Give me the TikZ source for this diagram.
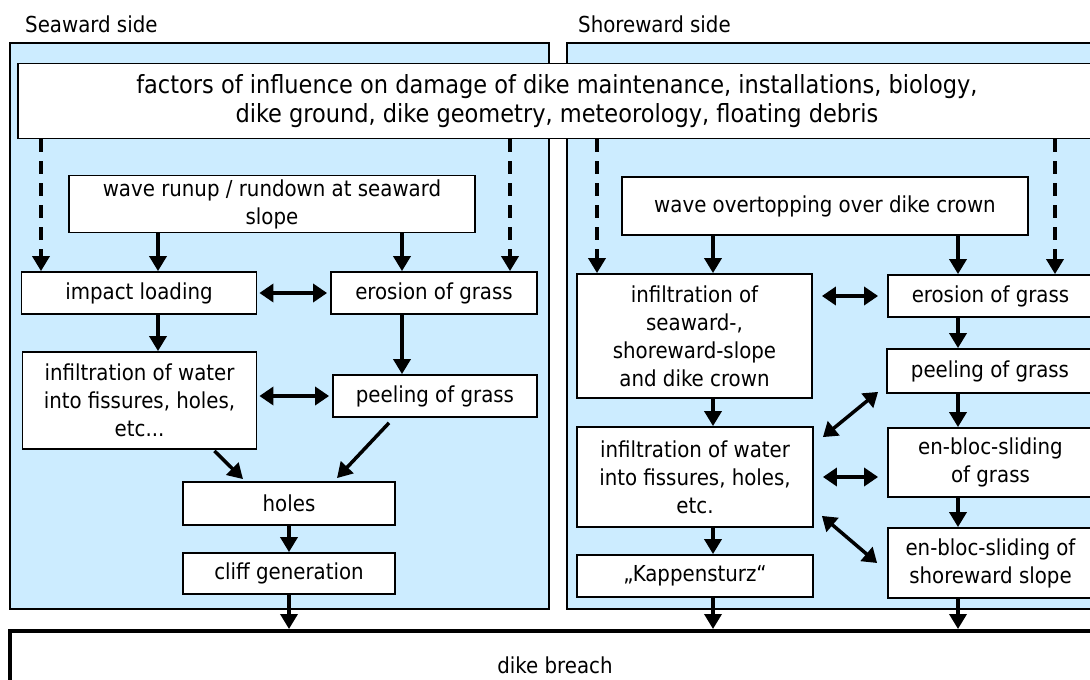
\documentclass[tikz,border=0pt]{standalone}
\usepackage{fontspec}
\setmainfont{DejaVu Sans Condensed}
\usetikzlibrary{arrows.meta}
\definecolor{seablue}{RGB}{204,236,255}
\tikzset{
  box/.style={draw, line width=1.8pt, fill=white, align=center, inner sep=0pt},
  panel/.style={draw, line width=1.8pt, fill=seablue},
  flow/.style={-{Triangle[length=15pt,width=17pt]}, line width=3.5pt},
  both/.style={{Triangle[length=14pt,width=18pt]}-{Triangle[length=14pt,width=18pt]}, line width=3.5pt},
  influence/.style={flow, dash pattern=on 13pt off 9pt},
}
\begin{document}
\begin{tikzpicture}[x=1pt, y=-1pt, every node/.style={font=\fontsize{22}{28}\selectfont}]
  \useasboundingbox (0,0) rectangle (1090,680);

  % the two sides
  \draw[panel] (10,43) rectangle (549,609);
  \draw[panel] (567,43) rectangle (1100,609);
  \node[anchor=west, inner sep=0pt] (seaLabel) at (25,24) {Seaward side};
  \node[anchor=west, inner sep=0pt] (shoreLabel) at (578,24) {Shoreward side};

  \node[box, minimum width=1078pt, minimum height=75pt, font=\fontsize{25}{29}\selectfont] (factors) at (557,101)
    {factors of influence on damage of dike maintenance, installations, biology,\\dike ground, dike geometry, meteorology, floating debris};

  % seaward side
  \node[box, minimum width=406pt, minimum height=57pt] (runup) at (272,204) {wave runup / rundown at seaward\\slope};
  \node[box, minimum width=235pt, minimum height=42pt] (impact) at (139,293) {impact loading};
  \node[box, minimum width=206pt, minimum height=42pt] (erosSea) at (434,293) {erosion of grass};
  \node[box, minimum width=234pt, minimum height=97pt] (infilSea) at (139.5,400.5) {infiltration of water\\into fissures, holes,\\etc...};
  \node[box, minimum width=204pt, minimum height=42pt] (peelSea) at (435,396) {peeling of grass};
  \node[box, minimum width=212pt, minimum height=43pt] (holes) at (289,503.5) {holes};
  \node[box, minimum width=212pt, minimum height=41pt] (cliff) at (289,573.5) {cliff generation};

  % shoreward side
  \node[box, minimum width=406pt, minimum height=58pt] (overtop) at (825,206) {wave overtopping over dike crown};
  \node[box, minimum width=235pt, minimum height=124pt] (infilCrown) at (694.5,336) {infiltration of\\seaward-,\\shoreward-slope\\and dike crown};
  \node[box, minimum width=205pt, minimum height=42pt] (erosShore) at (990.5,296) {erosion of grass};
  \node[box, minimum width=206pt, minimum height=44pt] (peelShore) at (990,371) {peeling of grass};
  \node[box, minimum width=236pt, minimum height=100pt] (infilShore) at (695,477) {infiltration of water\\into fissures, holes,\\etc.};
  \node[box, minimum width=205pt, minimum height=69pt] (slideGrass) at (990.5,462.5) {en-bloc-sliding\\of grass};
  \node[box, minimum width=205pt, minimum height=70pt] (slideSlope) at (990.5,563) {en-bloc-sliding of\\shoreward slope};
  \node[box, minimum width=236pt, minimum height=42pt] (kappen) at (695,576) {„Kappensturz“};

  \node[box, line width=4pt, minimum width=1090pt, minimum height=69pt] (breach) at (555,665.5) {dike breach};

  % arrow columns
  \coordinate (dashA) at (41,0);
  \coordinate (dashB) at (510,0);
  \coordinate (dashC) at (597,0);
  \coordinate (dashD) at (1055,0);
  \coordinate (colA) at (158,0);
  \coordinate (colB) at (402,0);
  \coordinate (colC) at (713,0);
  \coordinate (colD) at (958,0);

  \draw[influence] (factors.south -| dashA) -- (impact.north -| dashA);
  \draw[influence] (factors.south -| dashB) -- (erosSea.north -| dashB);
  \draw[influence] (factors.south -| dashC) -- (infilCrown.north -| dashC);
  \draw[influence] (factors.south -| dashD) -- (erosShore.north -| dashD);

  \draw[flow] (runup.south -| colA) -- (impact.north -| colA);
  \draw[flow] (runup.south -| colB) -- (erosSea.north -| colB);
  \draw[flow] (impact.south -| colA) -- (infilSea.north -| colA);
  \draw[flow] (erosSea.south -| colB) -- (peelSea.north -| colB);
  \draw[both, shorten <=2pt, shorten >=3pt] (impact) -- (erosSea);
  \draw[both, shorten <=2pt, shorten >=3pt] (infilSea.east |- peelSea) -- (peelSea.west);
  \draw[flow] ([shift={(-43,1)}]infilSea.south east) -- ([shift={(-46,-2)}]holes.north);
  \draw[flow] ([shift={(-46,5)}]peelSea.south) -- ([shift={(48,-3)}]holes.north);
  \draw[flow] (holes) -- (cliff);
  \draw[flow] (cliff.south) -- (breach.north -| cliff.south);

  \draw[flow] (overtop.south -| colC) -- (infilCrown.north -| colC);
  \draw[flow] (overtop.south -| colD) -- (erosShore.north -| colD);
  \draw[both, shorten <=9pt, shorten >=9pt] (infilCrown.east |- erosShore) -- (erosShore.west);
  \draw[flow] (erosShore.south -| colD) -- (peelShore.north -| colD);
  \draw[flow] (peelShore.south -| colD) -- (slideGrass.north -| colD);
  \draw[flow] (slideGrass.south -| colD) -- (slideSlope.north -| colD);
  \draw[flow] (infilCrown.south -| colC) -- (infilShore.north -| colC);
  \draw[flow] (infilShore.south -| colC) -- (kappen.north -| colC);
  \draw[both] ([shift={(9,11)}]infilShore.north east) -- ([shift={(-8,-2)}]peelShore.south west);
  \draw[both, shorten <=9pt, shorten >=9pt] (infilShore.east) -- (infilShore.east -| slideGrass.west);
  \draw[both] ([shift={(8,-12)}]infilShore.south east) -- ([shift={(-10,0)}]slideSlope.west);
  \draw[flow] (kappen.south -| colC) -- (breach.north -| colC);
  \draw[flow] (slideSlope.south -| colD) -- (breach.north -| colD);
\end{tikzpicture}
\end{document}
